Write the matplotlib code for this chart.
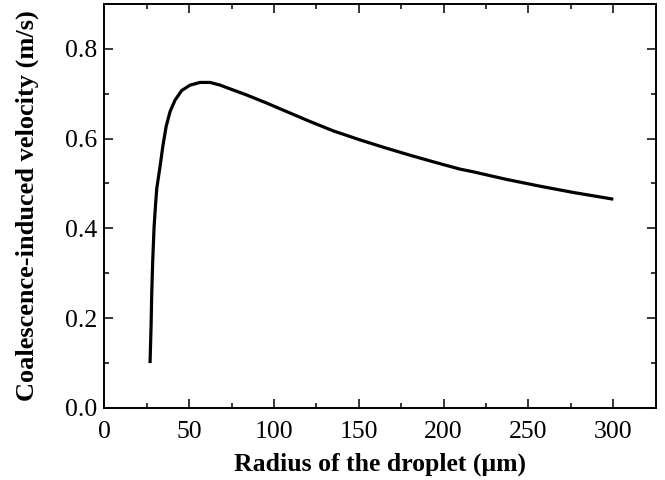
import matplotlib
matplotlib.use("Agg")
import matplotlib.pyplot as plt
from matplotlib.ticker import MultipleLocator

# radius of droplet (um) and coalescence-induced velocity (m/s)
radius = [26.9, 27.5, 27.9, 28.5, 29.3, 30.1, 30.9, 32.9, 34.4, 36.4, 38.7, 41.7,
          45.6, 50.5, 56.4, 62.3, 68.2, 76.0, 83.9, 95.7, 100.0, 121.2, 135.0,
          150.7, 165.0, 180.1, 195.0, 209.6, 217.4, 237.1, 256.7, 276.4, 300.0]
velocity = [0.100, 0.180, 0.255, 0.330, 0.404, 0.450, 0.490, 0.540, 0.582, 0.627, 0.660, 0.686,
            0.707, 0.719, 0.725, 0.725, 0.719, 0.708, 0.697, 0.679, 0.672, 0.638, 0.617,
            0.597, 0.580, 0.563, 0.547, 0.532, 0.526, 0.509, 0.494, 0.480, 0.465]

plt.rcParams["font.family"] = ["Liberation Serif", "DejaVu Serif"]

fig = plt.figure(figsize=(6.65, 4.8), dpi=100)
ax = fig.add_axes([0.157, 0.15, 0.829, 0.842])

ax.plot(radius, velocity, color="black", linewidth=2.3,
        solid_joinstyle="round", solid_capstyle="butt")

ax.set_xlim(0, 325)
ax.set_ylim(0, 0.9)
ax.xaxis.set_major_locator(MultipleLocator(50))
ax.xaxis.set_minor_locator(MultipleLocator(25))
ax.yaxis.set_major_locator(MultipleLocator(0.2))
ax.yaxis.set_minor_locator(MultipleLocator(0.1))
ax.yaxis.set_major_formatter(plt.FuncFormatter(lambda v, p: f"{v:.1f}"))

ax.tick_params(which="both", direction="in", top=True, right=True, width=1.1, labelsize=18.5)
ax.tick_params(which="major", length=6.5)
ax.tick_params(which="minor", length=3.5)
ax.tick_params(axis="x", which="major", pad=9)
ax.tick_params(axis="y", which="major", pad=5)
for s in ax.spines.values():
    s.set_linewidth(1.4)

ax.set_xlabel("Radius of the droplet (\u03bcm)", fontsize=18.5, fontweight="bold", labelpad=7)
ax.set_ylabel("Coalescence-induced velocity (m/s)", fontsize=19, fontweight="bold", labelpad=19)

plt.savefig("out.png", dpi=100)
plt.close()
